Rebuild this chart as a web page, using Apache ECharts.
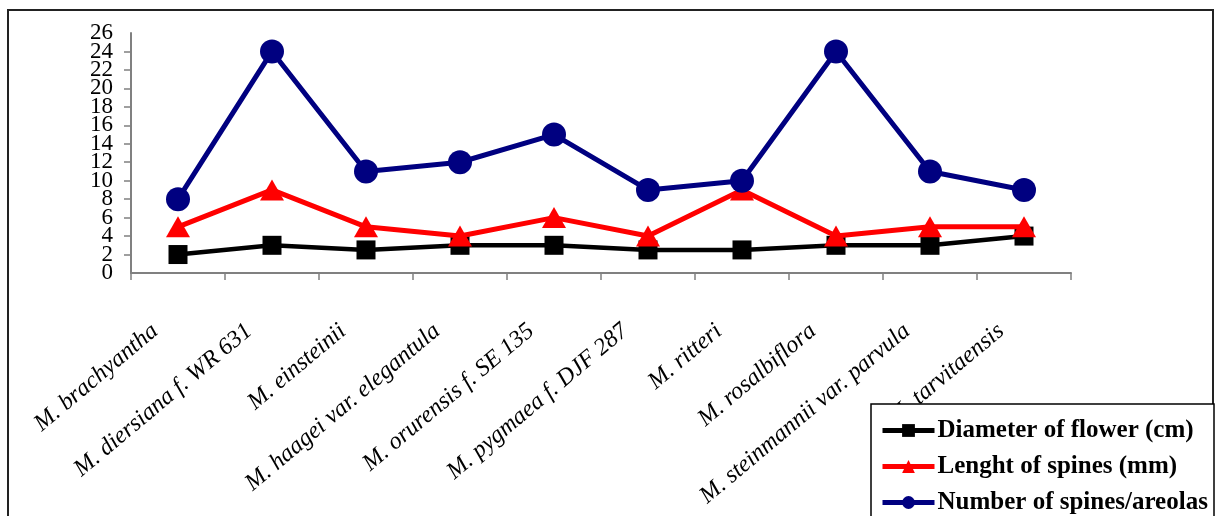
<!DOCTYPE html>
<html>
<head>
<meta charset="utf-8">
<script src="https://cdn.jsdelivr.net/npm/echarts@6/dist/echarts.min.js"></script>
<style>
html,body{margin:0;padding:0;background:#fff;}
#chart{width:1216px;height:516px;}
</style>
</head>
<body>
<div id="chart"></div>
<script>
var categories = ['M. brachyantha','M. diersiana f. WR 631','M. einsteinii','M. haagei var. elegantula','M. orurensis f. SE 135','M. pygmaea f. DJF 287','M. ritteri','M. rosalbiflora','M. steinmannii var. parvula','M. tarvitaensis'];
var diameterOfFlower = [2, 3, 2.5, 3, 3, 2.5, 2.5, 3, 3, 4];
var lengthOfSpines = [5, 9, 5, 4, 6, 4, 9, 4, 5, 5];
var spinesPerAreola = [8, 24, 11, 12, 15, 9, 10, 24, 11, 9];
var yTicks = {min: 0, max: 26, interval: 2};
var seriesNames = ['Diameter of flower (cm)', 'Lenght of spines (mm)', 'Number of spines/areolas'];

var serif = '"Liberation Serif", "DejaVu Serif", serif';
var yLabelStyle = {margin: 18, fontFamily: serif, fontSize: 23, color: '#000'};
var chart = echarts.init(document.getElementById('chart'), null, {renderer: 'canvas'});
chart.setOption({
  animation: false,
  backgroundColor: '#fff',
  grid: {left: 131, right: 145, top: 33, bottom: 243, containLabel: false},
  xAxis: {
    type: 'category',
    data: categories,
    boundaryGap: true,
    axisLine: {lineStyle: {color: '#808080', width: 2}},
    axisTick: {show: true, length: 7, inside: false, lineStyle: {color: '#808080', width: 1.5}},
    axisLabel: {
      interval: 0,
      rotate: 40,
      margin: 36,
      padding: [0, 30, 0, 0],
      fontFamily: serif,
      fontStyle: 'italic',
      fontSize: 24,
      color: '#000',
      hideOverlap: false
    },
    splitLine: {show: false}
  },
  yAxis: [
    {
      type: 'value',
      position: 'left',
      min: yTicks.min,
      max: yTicks.max,
      interval: yTicks.interval,
      axisLine: {show: true, lineStyle: {color: '#808080', width: 2}},
      axisTick: {show: true, length: 7, lineStyle: {color: '#808080', width: 1.5}},
      axisLabel: yLabelStyle,
      splitLine: {show: false}
    },
    {
      type: 'value',
      position: 'left',
      offset: 0,
      min: yTicks.min,
      max: yTicks.max,
      interval: yTicks.interval,
      axisLine: {show: false},
      axisTick: {show: false},
      axisLabel: Object.assign({}, yLabelStyle, {
        showMinLabel: true, showMaxLabel: true,
        formatter: function (v) { return (v === yTicks.min || v === yTicks.max) ? String(v) : ''; }
      }),
      splitLine: {show: false}
    }
  ],
  legend: {
    orient: 'vertical',
    left: 880,
    top: 418,
    padding: 0,
    itemGap: 11,
    itemWidth: 52,
    itemHeight: 16,
    z: 20,
    lineStyle: {width: 5},
    textStyle: {fontFamily: serif, fontWeight: 'bold', fontSize: 25, color: '#000', lineHeight: 24, padding: [0, 0, 0, -2]},
    data: seriesNames
  },
  graphic: [
    {type: 'rect', z: 0, silent: true, shape: {x: 8, y: 10, width: 1205, height: 600}, style: {fill: null, stroke: '#222', lineWidth: 2}},
    {type: 'rect', z: 15, silent: true, shape: {x: 871, y: 404, width: 343, height: 200}, style: {fill: '#fff', stroke: '#000', lineWidth: 1.5}}
  ],
  series: [
    {name: seriesNames[0], type: 'line', yAxisIndex: 0, data: diameterOfFlower, color: '#000000',
     symbol: 'rect', symbolSize: 19, lineStyle: {width: 4.5, color: '#000'}, itemStyle: {color: '#000'}, z: 3},
    {name: seriesNames[1], type: 'line', yAxisIndex: 0, data: lengthOfSpines, color: '#ff0000',
     symbol: 'triangle', symbolSize: [24, 21], lineStyle: {width: 5, color: '#ff0000'}, itemStyle: {color: '#ff0000'}, z: 4},
    {name: seriesNames[2], type: 'line', yAxisIndex: 0, data: spinesPerAreola, color: '#000080',
     symbol: 'circle', symbolSize: 24, lineStyle: {width: 5, color: '#000080'}, itemStyle: {color: '#000080'}, z: 5}
  ]
});
</script>
</body>
</html>
